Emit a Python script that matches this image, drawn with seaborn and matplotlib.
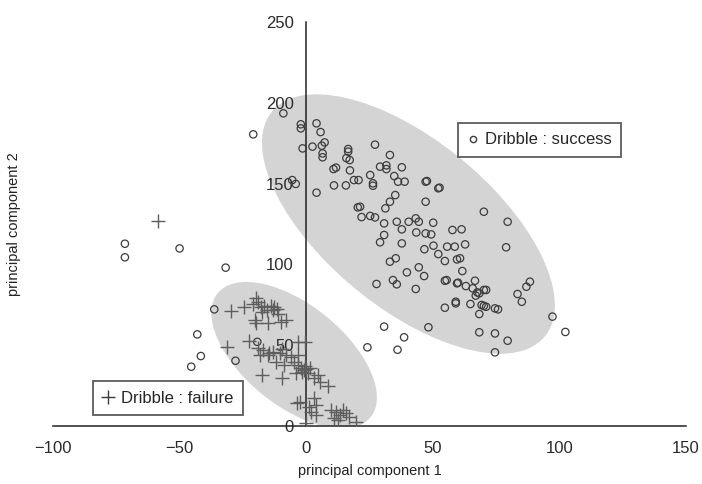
import numpy as np
import pandas as pd
import matplotlib
matplotlib.use("Agg")
import matplotlib.pyplot as plt
from matplotlib.patches import Ellipse
from matplotlib.lines import Line2D
import seaborn as sns

# ===== DATA =====
success_pc1 = [
    -20.9, -9.0, -71.6, -71.6, -50.0, -31.8, -36.3, -43.0, -41.6, -45.4, -27.9, -19.3,
    24.2, 30.8, 36.1, 38.7, 48.3, 74.6, 68.4, 74.6, 79.6, 97.3, 102.4,
    -2.1, -2.1, 4.1, 5.7, 7.3, 6.2, 6.5, 6.5, 2.5, -1.4, 16.6, 16.6, 27.2, 33.1,
    15.9, 17.2, 11.8, 10.8, 17.3, 29.2, 31.7, 31.7, 37.8, 34.8, 36.3, 38.9, 25.3,
    26.4, 26.4, 18.9, 20.7, 15.7, 11.0, 4.1, -5.5, -4.1, 47.2, 52.2, 47.2, 33.1,
    31.3, 35.2, 20.4, 21.3, 21.9, 25.3, 27.2, 30.8, 35.8, 37.8, 40.5, 43.3, 44.5,
    50.2, 43.5, 47.2, 49.4, 30.8, 29.2, 37.8, 50.3, 52.2, 55.7, 58.7, 62.8, 57.8,
    61.4, 70.2, 79.6, 79.0, 46.7, 35.4, 33.1, 54.8, 59.6, 60.8, 61.7, 39.8, 44.5,
    46.6, 34.3, 35.8, 27.8, 43.3, 54.8, 55.5, 59.6, 60.0, 63.1, 65.8, 66.7, 67.6,
    70.2, 71.1, 68.4, 67.0, 64.9, 69.3, 70.2, 71.1, 59.1, 59.1, 54.8, 68.4, 74.6,
    75.8, 83.5, 85.2, 87.0, 88.4, 47.7, 52.7,
]
success_pc2 = [
    180.5, 193.5, 112.8, 104.4, 109.9, 98.0, 72.2, 56.7, 43.3, 36.7, 40.4, 52.1,
    48.7, 61.5, 47.2, 54.9, 61.1, 45.6, 58.0, 57.3, 52.8, 67.7, 58.2,
    186.7, 184.2, 187.3, 181.9, 175.5, 173.5, 168.7, 166.3, 172.9, 171.8, 171.4,
    169.8, 174.1, 167.7, 165.8, 164.6, 159.9, 159.0, 158.2, 160.5, 161.3, 159.0,
    160.1, 154.7, 151.2, 151.2, 155.3, 150.2, 148.7, 152.2, 152.2, 148.9, 148.9,
    144.4, 152.2, 149.8, 151.2, 147.1, 138.8, 138.8, 134.7, 142.9, 135.3, 135.7,
    129.3, 130.0, 129.1, 125.4, 126.4, 121.7, 126.4, 128.5, 126.4, 125.8, 119.8,
    119.2, 118.6, 118.2, 113.7, 113.0, 111.6, 106.4, 111.0, 111.0, 112.4, 121.3,
    121.7, 132.6, 126.4, 110.6, 109.4, 103.8, 101.7, 102.1, 103.1, 103.8, 95.9,
    95.1, 98.2, 92.8, 90.3, 87.7, 87.9, 84.8, 89.9, 90.3, 88.3, 88.7, 86.6, 85.2,
    89.9, 82.7, 84.2, 84.2, 82.1, 80.7, 75.5, 74.9, 74.3, 73.8, 76.9, 75.9, 73.2,
    69.3, 72.8, 72.2, 81.7, 76.9, 86.2, 89.3, 151.6, 147.5,
]

failure_pc1 = [
    -58.5, -29.5, -24.4, -19.7, -20.9, -19.1, -18.0, -16.5, -15.5, -14.0, -13.0,
    -12.5, -11.5, -11.0, -17.5, -20.4, -19.7, -15.1, -9.9, -7.9, -31.2, -22.5,
    -19.1, -17.1, -18.2, -15.1, -13.2, -14.7, -10.5, -9.5, -7.9, -5.9, -4.6, -3.3,
    -2.0, -1.0, -0.5, 0.0, 0.8, 1.5, -1.5, -0.3, -3.3, -3.3, -11.8, -8.6, -17.3,
    -9.7, -4.0, 4.6, 3.3, 5.3, 8.6, -3.7, -2.6, 1.3, 3.0, 3.9, 2.0, 3.9, 0.0, 9.9,
    11.8, 13.2, 11.2, 14.5, 15.8, 17.1, 12.5, 19.7,
]
failure_pc2 = [
    126.9, 71.0, 73.5, 79.0, 75.5, 76.5, 73.5, 74.5, 72.0, 74.0, 71.5, 73.5, 72.5,
    69.3, 70.5, 65.6, 63.6, 63.9, 64.5, 65.6, 49.1, 52.6, 48.1, 47.0, 43.9, 43.9,
    46.0, 45.0, 45.0, 47.5, 43.9, 42.9, 39.8, 37.7, 36.0, 34.5, 37.0, 35.0, 33.0,
    36.0, 33.5, 52.0, 52.2, 43.9, 39.8, 37.7, 31.6, 29.5, 33.0, 31.6, 29.5, 27.4,
    24.8, 14.0, 15.0, 11.9, 17.1, 13.0, 8.8, 6.8, 1.7, 9.9, 8.8, 6.8, 4.8, 9.9,
    7.9, 5.8, 3.7, 2.7,
]

# cluster ellipses: centre x, centre y, width, height, angle (data units)
ellipse_success = (40.4, 125.0, 181.0, 80.0, -59.0)
ellipse_failure = (-4.75, 43.8, 101.0, 48.0, -60.0)

success = pd.DataFrame({"pc1": success_pc1, "pc2": success_pc2})
failure = pd.DataFrame({"pc1": failure_pc1, "pc2": failure_pc2})

# ===== PLOT =====
sns.set_style("white")
plt.rcParams["font.family"] = ["Liberation Sans", "DejaVu Sans"]

fig = plt.figure(figsize=(7.02, 4.84), dpi=100)
ax = fig.add_axes([0.0755, 0.1198, 0.9015, 0.8347])

for cx, cy, w, h, ang in (ellipse_success, ellipse_failure):
    ax.add_patch(Ellipse((cx, cy), w, h, angle=ang, facecolor="#d4d4d4",
                         edgecolor="none", zorder=0.5))

sns.scatterplot(data=success, x="pc1", y="pc2", marker="o", s=28,
                facecolor="none", edgecolor="#3c3c3c", linewidth=0.9,
                ax=ax, zorder=2)
ax.collections[-1].set_facecolor("none")
sns.scatterplot(data=failure, x="pc1", y="pc2", marker="+", s=90,
                color="#5e5e5e", linewidth=1.0, ax=ax, zorder=2)

ax.set_xlim(-100, 150)
ax.set_ylim(0, 250)
ax.set_xticks([-100, -50, 0, 50, 100, 150])
ax.set_yticks([0, 50, 100, 150, 200, 250])

# axes crossing at the origin
ax.spines["left"].set_position(("data", 0))
ax.spines["bottom"].set_position(("data", 0))
ax.spines["top"].set_visible(False)
ax.spines["right"].set_visible(False)
for s in ("left", "bottom"):
    ax.spines[s].set_color("#222222")
    ax.spines[s].set_linewidth(1.1)
    ax.spines[s].set_zorder(1)
ax.tick_params(direction="in", length=4, width=1, color="#222222",
               labelsize=12, labelcolor="#2a2a2a")
ax.tick_params(axis="x", pad=11)
ax.tick_params(axis="y", pad=9)

ax.set_xlabel("principal component 1", fontsize=10.5, color="#222222")
ax.set_ylabel("principal component 2", fontsize=10.5, color="#222222")
ax.xaxis.set_label_coords(0.5, -0.095)
ax.yaxis.set_label_coords(-0.05, 0.5)

# legend boxes
leg_kw = dict(frameon=True, fancybox=False, fontsize=12, handlelength=0.7,
              handletextpad=0.4, borderpad=0.55, borderaxespad=0, loc="center")
h_succ = Line2D([], [], linestyle="none", marker="o", markersize=4.5,
                markerfacecolor="none", markeredgecolor="#3c3c3c")
h_fail = Line2D([], [], linestyle="none", marker="+", markersize=10,
                markeredgecolor="#3c3c3c", markeredgewidth=1.0)
leg1 = ax.legend(handles=[h_succ], labels=["Dribble : success"],
                 bbox_to_anchor=(0.7686, 0.708), **leg_kw)
ax.add_artist(leg1)
leg2 = ax.legend(handles=[h_fail], labels=["Dribble : failure"],
                 bbox_to_anchor=(0.1817, 0.069), **leg_kw)
for leg in (leg1, leg2):
    leg.get_frame().set_edgecolor("#333333")
    leg.get_frame().set_linewidth(1.3)
    leg.set_zorder(5)

fig.savefig("out.png", dpi=100)
